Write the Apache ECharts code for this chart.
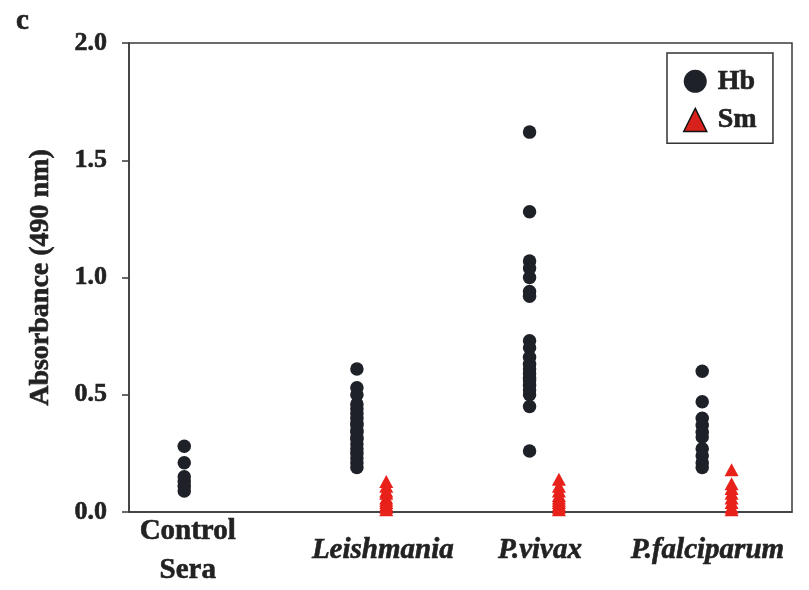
<!DOCTYPE html>
<html>
<head>
<meta charset="utf-8">
<title>Absorbance (490 nm)</title>
<script src="https://cdn.jsdelivr.net/npm/echarts@6/dist/echarts.min.js"></script>
<style>
  html, body { margin: 0; padding: 0; background: #fff; }
  #chart { width: 809px; height: 590px; }
</style>
</head>
<body>
<div id="chart"></div>
<script>
// Groups shown along the horizontal axis
const categories = ['Control\nSera', 'Leishmania', 'P.vivax', 'P.falciparum'];
const italicGroups = [false, true, true, true];

// Hb antigen absorbance per serum group
const hbControl = [0.28, 0.21, 0.15, 0.13, 0.11, 0.09];
const hbLeishmania = [0.61, 0.53, 0.50, 0.46, 0.44, 0.42, 0.40, 0.38, 0.37, 0.35, 0.34, 0.32, 0.31, 0.29, 0.27, 0.25, 0.23, 0.21, 0.19];
const hbVivax = [1.62, 1.28, 1.07, 1.04, 1.00, 0.94, 0.92, 0.73, 0.70, 0.66, 0.63, 0.61, 0.59, 0.57, 0.56, 0.54, 0.52, 0.50, 0.45, 0.26];
const hbFalciparum = [0.60, 0.47, 0.40, 0.37, 0.34, 0.32, 0.27, 0.24, 0.21, 0.19];

// Sm antigen absorbance per serum group (none for control sera)
const smControl = [];
const smLeishmania = [0.13, 0.11, 0.09, 0.08, 0.06, 0.05, 0.04, 0.03, 0.02, 0.01];
const smVivax = [0.14, 0.11, 0.09, 0.07, 0.06, 0.05, 0.04, 0.03, 0.02, 0.01];
const smFalciparum = [0.18, 0.12, 0.10, 0.08, 0.06, 0.04, 0.02, 0.01];

// Y axis ticks
const yTicks = [0.0, 0.5, 1.0, 1.5, 2.0];

const hbGroups = [hbControl, hbLeishmania, hbVivax, hbFalciparum];
const smGroups = [smControl, smLeishmania, smVivax, smFalciparum];

// Each group sits at x = 1..4; Sm points are drawn a little to the right of Hb
const SM_SHIFT = 0.17;
const LABEL_POS = [1.02, 2.15, 3.06, 4.03];

function toPoints(groups, shift) {
  const out = [];
  groups.forEach((vals, i) => vals.forEach(v => out.push([i + 1 + shift, v])));
  return out;
}

const FONT = '"Liberation Serif", "DejaVu Serif", serif';
const INK = '#222';
// a thin outline in the text colour gives the heavy printed look
const HEAVY = { textBorderColor: INK, textBorderWidth: 0.6 };

const chart = echarts.init(document.getElementById('chart'), null, { renderer: 'canvas' });

chart.setOption({
  animation: false,
  backgroundColor: '#fff',
  title: {
    text: 'c',
    left: 11,
    top: 2,
    textStyle: Object.assign({ fontFamily: FONT, fontWeight: 'bold', fontSize: 29, color: INK }, HEAVY)
  },
  grid: {
    left: 129, top: 43, right: 17, bottom: 78,
    show: true, borderColor: '#3a3a3a', borderWidth: 1.5
  },
  legend: {
    orient: 'vertical',
    left: 667,
    top: 53,
    padding: [14, 16, 9, 16],
    itemWidth: 23,
    itemHeight: 23,
    itemGap: 10,
    borderColor: '#333',
    borderWidth: 1.5,
    textStyle: Object.assign({ fontFamily: FONT, fontWeight: 'bold', fontSize: 28, color: INK, padding: [0, 0, 0, 6] }, HEAVY),
    data: [
      { name: 'Hb', icon: 'circle' },
      { name: 'Sm', icon: 'triangle', itemStyle: { color: '#d8211c', borderColor: '#111', borderWidth: 1.5 } }
    ]
  },
  xAxis: {
    type: 'value',
    min: 0.68,
    max: 4.52,
    splitLine: { show: false },
    axisTick: { show: false },
    axisLine: { lineStyle: { color: '#3a3a3a', width: 1.5 } },
    axisLabel: {
      customValues: LABEL_POS,
      verticalAlign: 'middle',
      margin: 39,
      formatter: function (value) {
        const i = LABEL_POS.findIndex(p => Math.abs(p - value) < 1e-6);
        if (i < 0) return '';
        const style = italicGroups[i] ? 'i' : 'n';
        return categories[i].split('\n').map(s => '{' + style + '|' + s + '}').join('\n');
      },
      rich: {
        n: Object.assign({ fontFamily: FONT, fontWeight: 'bold', fontSize: 29, color: INK, lineHeight: 39 }, HEAVY),
        i: Object.assign({ fontFamily: FONT, fontWeight: 'bold', fontStyle: 'italic', fontSize: 29, color: INK, lineHeight: 38 }, HEAVY)
      }
    }
  },
  yAxis: {
    type: 'value',
    min: yTicks[0],
    max: yTicks[yTicks.length - 1],
    interval: 0.5,
    name: 'Absorbance (490 nm)',
    nameLocation: 'middle',
    nameGap: 74,
    nameTextStyle: Object.assign({ fontFamily: FONT, fontWeight: 'bold', fontSize: 28, color: INK }, HEAVY),
    splitLine: { show: false },
    axisLine: { lineStyle: { color: '#3a3a3a', width: 1.5 } },
    axisTick: { show: true, inside: false, length: 7, lineStyle: { color: '#3a3a3a', width: 1.5 } },
    axisLabel: Object.assign({
      margin: 22,
      fontFamily: FONT, fontWeight: 'bold', fontSize: 26, color: INK,
      formatter: v => v.toFixed(1)
    }, HEAVY)
  },
  series: [
    {
      name: 'Hb',
      type: 'scatter',
      symbol: 'circle',
      symbolSize: 13.5,
      clip: false,
      itemStyle: { color: '#1f2128', opacity: 1 },
      data: toPoints(hbGroups, 0)
    },
    {
      name: 'Sm',
      type: 'scatter',
      symbol: 'triangle',
      symbolSize: [14, 13],
      clip: false,
      itemStyle: { color: '#e8211b', opacity: 1 },
      data: toPoints(smGroups, SM_SHIFT)
    }
  ]
});
</script>
</body>
</html>
